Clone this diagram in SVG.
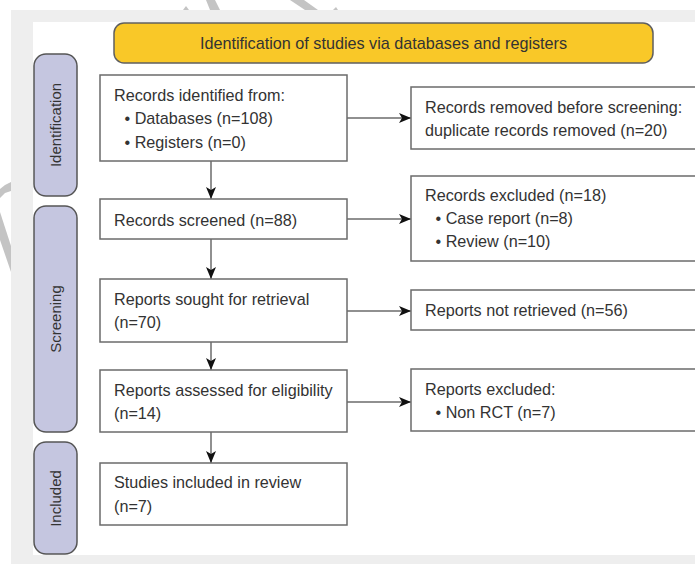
<svg xmlns="http://www.w3.org/2000/svg" width="695" height="564" viewBox="0 0 695 564">
<defs>
<style>
.box{fill:#fff;stroke:#6b6b6b;stroke-width:1.5}
.side{fill:#c5c6e0;stroke:#555;stroke-width:1.5}
.hdr{fill:#f9c828;stroke:#5f5f5f;stroke-width:1.5}
.t{font-family:"Liberation Sans",Arial,sans-serif;font-size:16.2px;fill:#333}
.st{font-family:"Liberation Sans",Arial,sans-serif;font-size:15px;fill:#333;text-anchor:middle}
.conn{stroke:#6b6b6b;stroke-width:1.5;fill:none;marker-end:url(#ah)}
.wm{fill:#c4c4c4}
</style>
<marker id="ah" markerUnits="userSpaceOnUse" markerWidth="12" markerHeight="10" refX="12" refY="5" orient="auto" viewBox="0 0 12 10">
<path d="M0,0 L12,5 L0,10 L3,5 Z" fill="#111"/>
</marker>
</defs>
<rect width="695" height="564" fill="#fff"/>
<g id="watermark">
<polygon class="wm" points="183,10 186,6 189,10"/>
<polygon class="wm" points="206,0 215,0 220,10 210,10"/>
<polygon class="wm" points="290,0 304,0 318,10 305,10"/>
<polygon class="wm" points="333,10 336,7 338,10"/>
<polygon class="wm" points="0,189 5,185 11,182 11,191 5,193 0,198"/>
<polygon class="wm" points="0,212 11,246 11,272 0,240"/>
</g>
<rect x="11" y="10" width="684" height="554" fill="#eeeeee"/>
<rect x="33" y="22" width="662" height="533" fill="#fff"/>

<g id="header">
<rect class="hdr" x="114" y="23" width="539" height="40" rx="10"/>
<text class="t" x="383.5" y="48.5" text-anchor="middle">Identification of studies via databases and registers</text>
</g>

<g id="side-identification">
<rect class="side" x="34" y="54" width="43" height="142" rx="12"/>
<text class="st" transform="translate(55.5,125) rotate(-90)" x="0" y="5.4">Identification</text>
</g>
<g id="side-screening">
<rect class="side" x="34" y="206" width="43" height="226" rx="12"/>
<text class="st" transform="translate(55.5,319) rotate(-90)" x="0" y="5.4">Screening</text>
</g>
<g id="side-included">
<rect class="side" x="34" y="442" width="43" height="112" rx="12"/>
<text class="st" transform="translate(55.5,498.5) rotate(-90)" x="0" y="5.4">Included</text>
</g>

<g id="connectors">
<line class="conn" x1="211" y1="161" x2="211" y2="199"/>
<line class="conn" x1="211" y1="239" x2="211" y2="279"/>
<line class="conn" x1="211" y1="342" x2="211" y2="370"/>
<line class="conn" x1="211" y1="432" x2="211" y2="463"/>
<line class="conn" x1="347" y1="118" x2="411" y2="118"/>
<line class="conn" x1="347" y1="219" x2="411" y2="219"/>
<line class="conn" x1="347" y1="311" x2="411" y2="311"/>
<line class="conn" x1="347" y1="402" x2="411" y2="402"/>
</g>

<g id="identified">
<rect class="box" x="100" y="75" width="247" height="86"/>
<text class="t" x="114" y="100.5">Records identified from:</text>
<text class="t" x="124.5" y="124">• Databases (n=108)</text>
<text class="t" x="124.5" y="147.5">• Registers (n=0)</text>
</g>
<g id="screened">
<rect class="box" x="100" y="199" width="247" height="40"/>
<text class="t" x="114" y="225.5">Records screened (n=88)</text>
</g>
<g id="sought">
<rect class="box" x="100" y="279" width="247" height="63"/>
<text class="t" x="114" y="305">Reports sought for retrieval</text>
<text class="t" x="114" y="328">(n=70)</text>
</g>
<g id="assessed">
<rect class="box" x="100" y="370" width="247" height="62"/>
<text class="t" x="114" y="396">Reports assessed for eligibility</text>
<text class="t" x="114" y="419">(n=14)</text>
</g>
<g id="included">
<rect class="box" x="100" y="463" width="247" height="62"/>
<text class="t" x="114" y="488">Studies included in review</text>
<text class="t" x="114" y="511.5">(n=7)</text>
</g>

<g id="removed">
<rect class="box" x="411" y="87" width="300" height="62"/>
<text class="t" x="425" y="113">Records removed before screening:</text>
<text class="t" x="425" y="135.5">duplicate records removed (n=20)</text>
</g>
<g id="excluded">
<rect class="box" x="411" y="176" width="300" height="85"/>
<text class="t" x="425" y="201">Records excluded (n=18)</text>
<text class="t" x="435.5" y="224">• Case report (n=8)</text>
<text class="t" x="435.5" y="247">• Review (n=10)</text>
</g>
<g id="not-retrieved">
<rect class="box" x="411" y="290" width="300" height="40"/>
<text class="t" x="425" y="315.5">Reports not retrieved (n=56)</text>
</g>
<g id="reports-excluded">
<rect class="box" x="411" y="369" width="300" height="62"/>
<text class="t" x="425" y="394.5">Reports excluded:</text>
<text class="t" x="435.5" y="417.5">• Non RCT (n=7)</text>
</g>
</svg>
